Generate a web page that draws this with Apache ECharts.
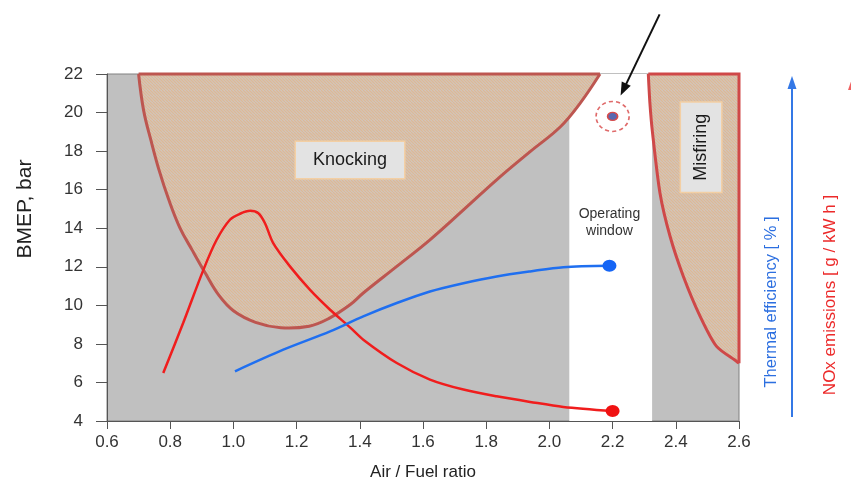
<!DOCTYPE html>
<html>
<head>
<meta charset="utf-8">
<script src="https://cdn.jsdelivr.net/npm/echarts@6/dist/echarts.min.js"></script>
<style>html,body{margin:0;padding:0;background:#fff}#c{width:851px;height:491px}</style>
</head>
<body>
<div id="c"></div>
<script>
// ---- data ----
const xTickMin = 0.6, xTickMax = 2.6, xTickStep = 0.2;
const yTickMin = 4, yTickMax = 22, yTickStep = 2;

const noxX = [0.778, 0.841, 0.905, 0.947, 0.989, 1.021, 1.053, 1.079, 1.100, 1.126, 1.179, 1.242, 1.306, 1.369, 1.411, 1.517, 1.622, 1.728, 1.833, 1.939, 2.044, 2.20];
const noxY = [6.49, 9.08, 11.84, 13.40, 14.44, 14.75, 14.90, 14.78, 14.26, 13.23, 12.02, 10.81, 9.77, 8.86, 8.22, 7.01, 6.15, 5.63, 5.28, 4.99, 4.73, 4.52];

const effX = [1.005, 1.158, 1.306, 1.411, 1.517, 1.622, 1.728, 1.833, 1.939, 2.044, 2.19];
const effY = [6.58, 7.70, 8.65, 9.43, 10.12, 10.72, 11.15, 11.50, 11.76, 11.98, 12.05];

// knocking region boundary curve (from top-right corner, down and round to top-left corner)
const knockX = [2.16, 2.097, 2.034, 1.939, 1.833, 1.728, 1.622, 1.517, 1.411, 1.369, 1.30, 1.24, 1.15, 1.07, 1.00, 0.955, 0.91, 0.87, 0.83, 0.795, 0.765, 0.74, 0.716, 0.70];
const knockY = [22, 20.48, 19.25, 17.97, 16.51, 14.95, 13.40, 12.02, 10.64, 10.03, 9.30, 8.92, 8.84, 9.12, 9.72, 10.50, 11.70, 12.85, 14.05, 15.50, 17.00, 18.50, 20.10, 22];

// misfiring region boundary curve (from top-left corner down to right edge)
const misX = [2.313, 2.318, 2.326, 2.35, 2.382, 2.424, 2.477, 2.529, 2.593, 2.6];
const misY = [22, 20.5, 19.0, 15.82, 13.57, 11.5, 9.43, 7.87, 7.09, 7.0];

const windowX = [2.063, 2.325];
const targetPoint = [2.2, 19.8];

const regionLabels = ['Knocking', 'Misfiring', 'Operating\nwindow'];
const labelPos = [[1.369, 17.54], [2.48, 18.2], [2.19, 14.3]];

// ---- rendering ----
const FONT = '"Liberation Sans", Arial, Helvetica, sans-serif';

function makeHatch() {
  const c = document.createElement('canvas');
  c.width = 6; c.height = 6;
  const g = c.getContext('2d');
  g.fillStyle = '#cfc9c3';
  g.fillRect(0, 0, 6, 6);
  g.strokeStyle = '#ddb896';
  g.lineWidth = 1.3;
  g.beginPath();
  for (let k = -6; k <= 6; k += 3) { g.moveTo(k, 0); g.lineTo(k + 6, 6); }
  g.stroke();
  return c;
}
const hatch = { image: makeHatch(), repeat: 'repeat' };

function regionRenderer(xs, ys, closeXs, closeYs, borderColor, label, lp, vertical, smooth) {
  return function (params, api) {
    if (params.dataIndex !== 0) return null;
    const curve = xs.map((x, i) => api.coord([x, ys[i]]));
    const extra = closeXs.map((x, i) => api.coord([x, closeYs[i]]));
    const poly = curve.concat(extra);
    const edge = [curve[curve.length - 1]].concat(extra).concat([curve[0]]);
    const children = [
      { type: 'polygon', shape: { points: poly }, style: { fill: hatch, stroke: null } },
      { type: 'polyline', shape: { points: curve, smooth: smooth }, style: { fill: null, stroke: borderColor, lineWidth: 3, lineJoin: 'round' } },
      { type: 'polyline', shape: { points: edge }, style: { fill: null, stroke: borderColor, lineWidth: 3, lineJoin: 'miter' } }
    ];
    const c = api.coord(lp);
    children.push({
      type: 'text', x: c[0], y: c[1], rotation: vertical ? Math.PI / 2 : 0,
      style: {
        text: label, font: '18px ' + FONT, fill: '#1a1a1a',
        align: 'center', verticalAlign: 'middle',
        backgroundColor: '#e3e3e3', borderColor: '#f3cfa4', borderWidth: 1.5,
        padding: vertical ? [11, 11, 11, 11] : [9, 17, 9, 17]
      }
    });
    return { type: 'group', children };
  };
}

const chart = echarts.init(document.getElementById('c'), null, { renderer: 'canvas' });

const option = {
  animation: false,
  grid: { left: 107, right: 112, top: 74, bottom: 70, show: true, backgroundColor: '#c0c0c0', borderColor: '#808080', borderWidth: 1 },
  xAxis: {
    type: 'value', min: xTickMin, max: xTickMax, interval: xTickStep,
    name: 'Air / Fuel ratio', nameLocation: 'middle', nameGap: 43,
    nameTextStyle: { fontFamily: FONT, fontSize: 17, color: '#222' },
    axisLine: { show: true, lineStyle: { color: '#555', width: 1 } },
    axisTick: { show: true, length: 8, lineStyle: { color: '#555' } },
    axisLabel: { fontFamily: FONT, fontSize: 17, color: '#333', margin: 13, formatter: v => v.toFixed(1) },
    splitLine: { show: false }
  },
  yAxis: {
    type: 'value', min: yTickMin, max: yTickMax, interval: yTickStep,
    axisLine: { show: true, lineStyle: { color: '#555', width: 1 } },
    axisTick: { show: true, length: 11, lineStyle: { color: '#555' } },
    axisLabel: { fontFamily: FONT, fontSize: 17, color: '#333', margin: 24 },
    splitLine: { show: false }
  },
  series: [
    {
      type: 'custom', z: 1, silent: true,
      data: [[windowX[0], yTickMin], [windowX[1], yTickMax]],
      renderItem: function (params, api) {
        if (params.dataIndex !== 0) return null;
        const a = api.coord([windowX[0], yTickMax]);
        const b = api.coord([windowX[1], yTickMin]);
        const t = api.coord(labelPos[2]);
        return {
          type: 'group', children: [
            { type: 'rect', shape: { x: a[0], y: a[1], width: b[0] - a[0], height: b[1] - a[1] }, style: { fill: '#ffffff' } },
            { type: 'text', x: t[0], y: t[1], style: { text: regionLabels[2], font: '14px ' + FONT, fill: '#333', align: 'center', verticalAlign: 'middle', lineHeight: 17 } }
          ]
        };
      }
    },
    {
      type: 'custom', z: 2, silent: true,
      data: knockX.map((x, i) => [x, knockY[i]]),
      renderItem: regionRenderer(knockX, knockY, [], [], '#bd5650', regionLabels[0], labelPos[0], false, 0.4)
    },
    {
      type: 'custom', z: 2, silent: true,
      data: misX.map((x, i) => [x, misY[i]]),
      renderItem: regionRenderer(misX, misY, [xTickMax], [yTickMax], '#cf4848', regionLabels[1], labelPos[1], true, 0.25)
    },
    {
      type: 'line', z: 3, smooth: 0.3, showSymbol: false, symbol: 'none',
      data: noxX.map((x, i) => [x, noxY[i]]),
      lineStyle: { color: '#f01d1d', width: 2.5 }
    },
    {
      type: 'line', z: 3, smooth: 0.3, showSymbol: false, symbol: 'none',
      data: effX.map((x, i) => [x, effY[i]]),
      lineStyle: { color: '#1f6ff0', width: 2.5 }
    },
    {
      type: 'scatter', z: 4, symbol: 'circle', symbolSize: [14, 12],
      data: [[noxX[noxX.length - 1], noxY[noxY.length - 1]]],
      itemStyle: { color: '#f01212', opacity: 1 }
    },
    {
      type: 'scatter', z: 4, symbol: 'circle', symbolSize: [14, 12],
      data: [[effX[effX.length - 1], effY[effY.length - 1]]],
      itemStyle: { color: '#1565f5', opacity: 1 }
    },
    {
      type: 'scatter', z: 4, symbol: 'circle', symbolSize: [33, 30],
      data: [targetPoint],
      itemStyle: { color: 'rgba(0,0,0,0)', borderColor: '#df6a6a', borderWidth: 1.6, borderType: [4, 3], opacity: 1 }
    },
    {
      type: 'scatter', z: 5, symbol: 'circle', symbolSize: [10, 8],
      data: [targetPoint],
      itemStyle: { color: '#5a68b0', borderColor: '#d84a4a', borderWidth: 1.5, opacity: 1 }
    }
  ]
};
chart.setOption(option);

// annotations
const tp = chart.convertToPixel({ gridIndex: 0 }, targetPoint);
const ax2 = tp[0] + 8, ay2 = tp[1] - 21;   // arrow tip near the point
const ax1 = ax2 + 39, ay1 = ay2 - 81;      // arrow tail
function arrowHead(x1, y1, x2, y2, len, half) {
  const dx = x2 - x1, dy = y2 - y1, L = Math.hypot(dx, dy);
  const ux = dx / L, uy = dy / L;
  const bx = x2 - ux * len, by = y2 - uy * len;
  return [[x2, y2], [bx - uy * half, by + ux * half], [bx + uy * half, by - ux * half]];
}
chart.setOption({
  graphic: [
    { type: 'line', z: 100, shape: { x1: ax1, y1: ay1, x2: ax2 + 3, y2: ay2 - 6 }, style: { stroke: '#111', lineWidth: 2 } },
    { type: 'polygon', z: 100, shape: { points: arrowHead(ax1, ay1, ax2, ay2, 13, 5) }, style: { fill: '#111' } },
    { type: 'text', z: 100, x: 25, y: 209, rotation: Math.PI / 2, style: { text: 'BMEP, bar', font: '21px ' + FONT, fill: '#222', align: 'center', verticalAlign: 'middle' } },
    { type: 'text', z: 100, x: 771, y: 302, rotation: Math.PI / 2, style: { text: 'Thermal efficiency [ % ]', font: '16.5px ' + FONT, fill: '#2c6fe0', align: 'center', verticalAlign: 'middle' } },
    { type: 'line', z: 100, shape: { x1: 792, y1: 417, x2: 792, y2: 86 }, style: { stroke: '#3478e6', lineWidth: 2 } },
    { type: 'polygon', z: 100, shape: { points: [[792, 76], [787.5, 89], [796.5, 89]] }, style: { fill: '#3478e6' } },
    { type: 'text', z: 100, x: 830, y: 295, rotation: Math.PI / 2, style: { text: 'NOx emissions [ g / kW h ]', font: '17px ' + FONT, fill: '#ec2a2a', align: 'center', verticalAlign: 'middle' } },
    { type: 'polygon', z: 100, shape: { points: [[853, 76], [848, 90], [858, 90]] }, style: { fill: '#f06060' } }
  ]
});
</script>
</body>
</html>
